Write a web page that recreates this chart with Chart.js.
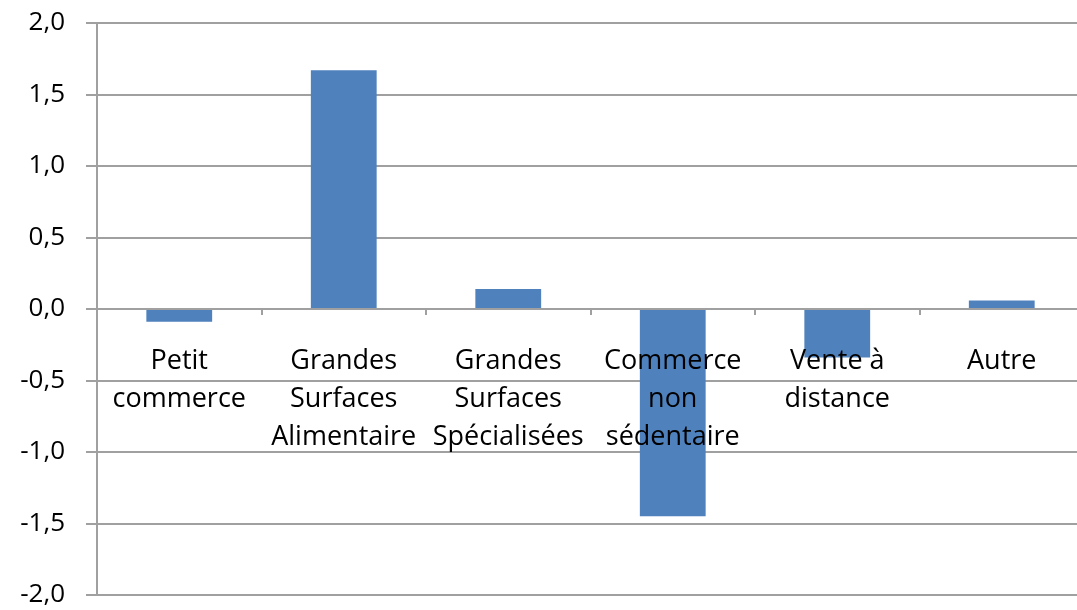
<!DOCTYPE html>
<html>
<head>
<meta charset="utf-8">
<script src="https://cdn.jsdelivr.net/npm/chart.js@4"></script>
<style>
  html, body { margin: 0; padding: 0; background: #fff; overflow: hidden; }
  #wrap { position: relative; width: 1090px; height: 610px; }
</style>
</head>
<body>
<div id="wrap"><canvas id="c"></canvas></div>
<script>
  // categories (multi-line labels) and values
  const categories = [
    ['Petit', 'commerce'],
    ['Grandes', 'Surfaces', 'Alimentaire'],
    ['Grandes', 'Surfaces', 'Spécialisées'],
    ['Commerce', 'non', 'sédentaire'],
    ['Vente à', 'distance'],
    ['Autre']
  ];
  const values = [-0.09, 1.67, 0.14, -1.45, -0.34, 0.06];
  const yTicks = [-2, -1.5, -1, -0.5, 0, 0.5, 1, 1.5, 2];

  const gridGrey = '#a0a0a0';
  const fontFamily = '"Open Sans", sans-serif';

  new Chart(document.getElementById('c'), {
    type: 'bar',
    data: {
      labels: categories,
      datasets: [{
        data: values,
        backgroundColor: '#4f81bd',
        borderWidth: 0,
        categoryPercentage: 1,
        barPercentage: 0.4
      }]
    },
    options: {
      responsive: true,
      maintainAspectRatio: false,
      animation: false,
      layout: { padding: { left: 0, top: 23, right: 6, bottom: 15 } },
      plugins: { legend: { display: false }, tooltip: { enabled: false } },
      scales: {
        x: {
          position: { y: 0 },
          afterFit: (s) => { s.height = 0; },
          grid: { display: true, drawOnChartArea: false, offset: true, color: gridGrey, lineWidth: 2, tickLength: 6 },
          border: { display: false },
          ticks: {
            z: 1, // labels over the bars
            color: '#000',
            padding: 27,
            maxRotation: 0,
            autoSkip: false,
            font: { family: fontFamily, size: 27, lineHeight: 1.41 }
          }
        },
        y: {
          min: -2,
          max: 2,
          afterBuildTicks: (axis) => { axis.ticks = yTicks.map(v => ({ value: v })); },
          afterFit: (s) => { s.width = 97; s.paddingTop = 0; s.paddingBottom = 0; },
          grid: { color: gridGrey, lineWidth: 2, tickLength: 11 },
          border: { color: gridGrey, width: 2 },
          ticks: {
            color: '#000',
            padding: 21,
            font: { family: fontFamily, size: 26 },
            callback: (v) => Number(v).toFixed(1).replace('.', ',')
          }
        }
      }
    }
  });
</script>
</body>
</html>
